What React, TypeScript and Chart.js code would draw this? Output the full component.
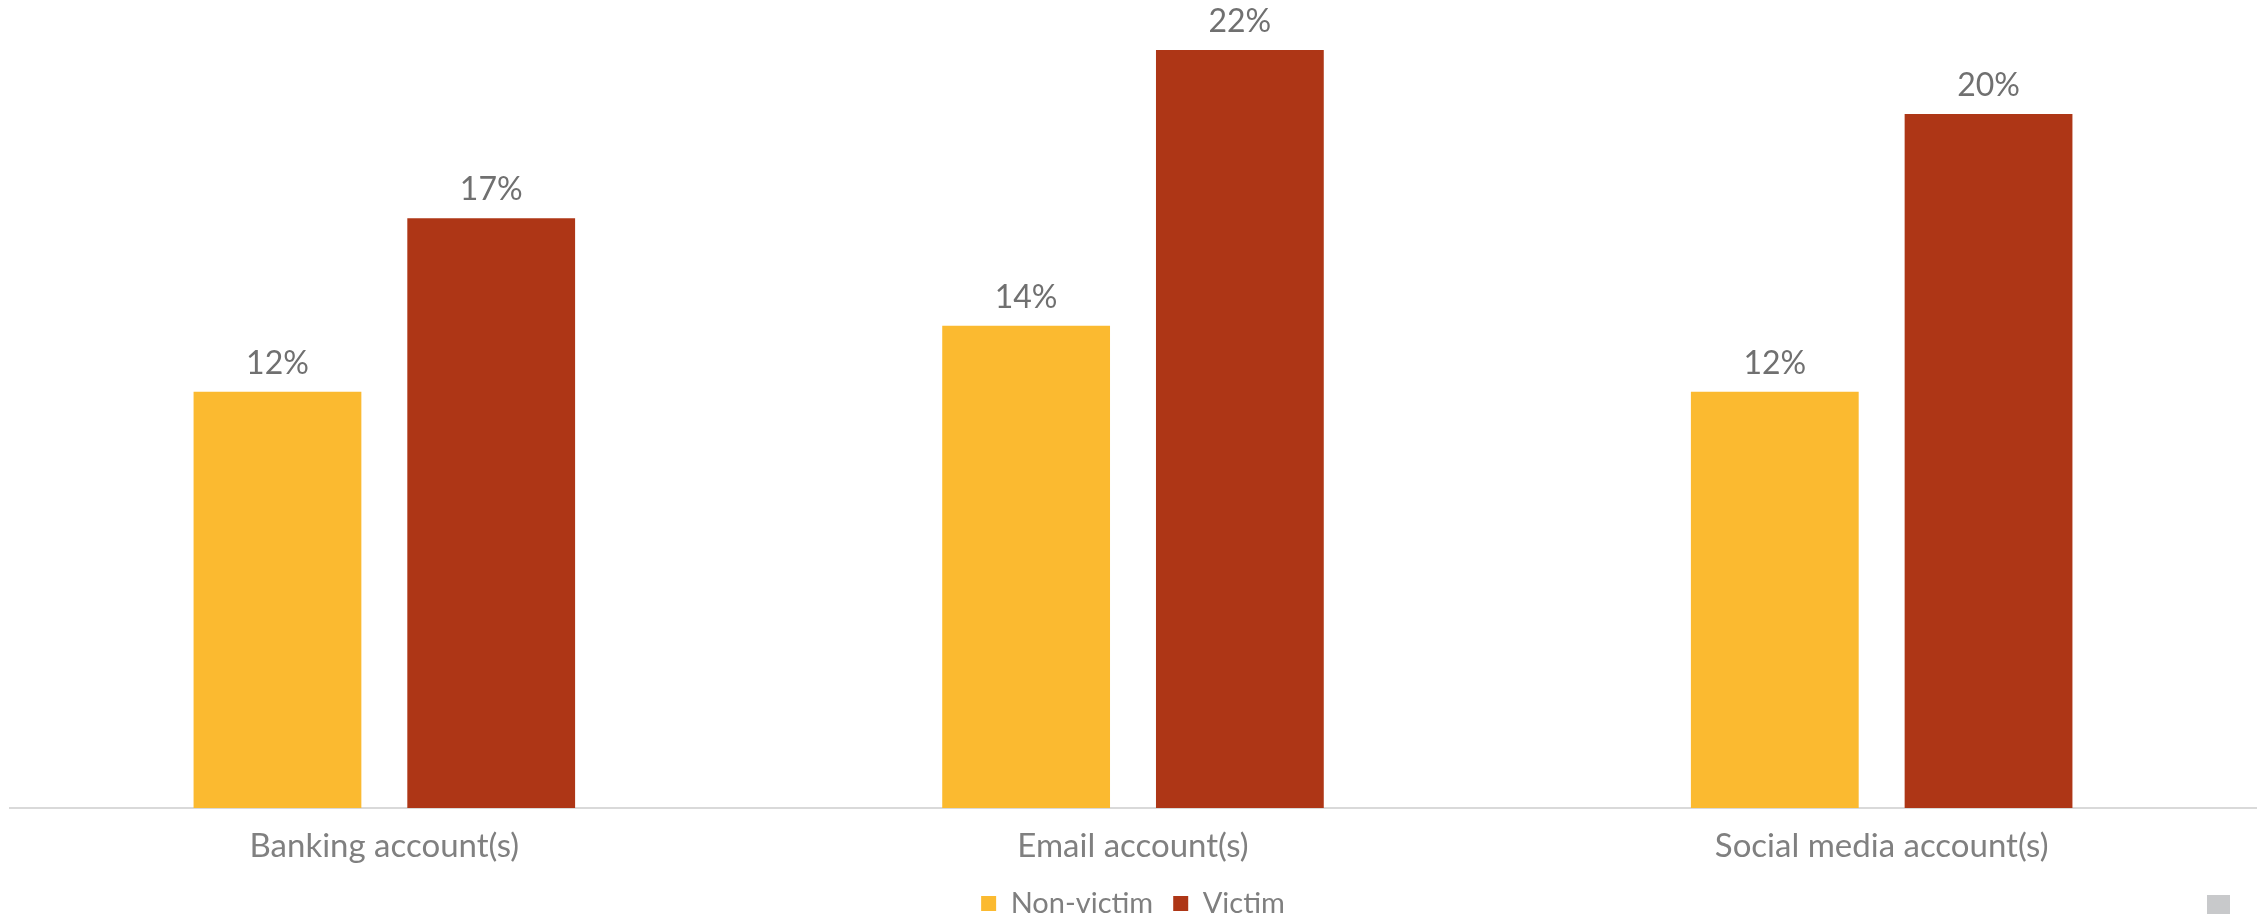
import React, { useEffect, useRef } from "react";
import { Chart, registerables } from "chart.js";

Chart.register(...registerables);

const categories = ["Banking account(s)", "Email account(s)", "Social media account(s)"];
const seriesNames = ["Non-victim", "Victim"];
const nonVictim = [12, 13.9, 12];
const victim = [17, 21.85, 20];
const seriesColors = ["#FBBA30", "#AE3616"];
const yMax = 23;

const FONT = "Lato, 'Open Sans', sans-serif";

const valueLabels = {
  id: "valueLabels",
  afterDatasetsDraw(chart: any) {
    const ctx = chart.ctx;
    ctx.save();
    ctx.font = `32px ${FONT}`;
    ctx.fillStyle = "#707070";
    ctx.textAlign = "center";
    ctx.textBaseline = "alphabetic";
    chart.data.datasets.forEach((ds: any, i: number) => {
      const meta = chart.getDatasetMeta(i);
      meta.data.forEach((el: any, j: number) => {
        const v = ds.data[j];
        ctx.fillText(Math.round(v) + "%", el.x, el.y - 18);
      });
    });
    ctx.restore();
  },
};

export default function App() {
  const ref = useRef<HTMLCanvasElement | null>(null);
  useEffect(() => {
    document.body.style.margin = "0";
    document.body.style.overflow = "hidden";
    const chart = new Chart(ref.current as HTMLCanvasElement, {
      type: "bar",
      data: {
        labels: categories,
        datasets: [
          {
            label: seriesNames[0],
            data: nonVictim,
            backgroundColor: seriesColors[0],
            categoryPercentage: 0.571,
            barPercentage: 0.785,
          },
          {
            label: seriesNames[1],
            data: victim,
            backgroundColor: seriesColors[1],
            categoryPercentage: 0.571,
            barPercentage: 0.785,
          },
        ],
      },
      options: {
        responsive: false,
        animation: false,
        layout: { padding: { left: 10, right: 4, top: 10, bottom: 0 } },
        scales: {
          x: {
            grid: { display: false, drawTicks: false },
            border: { display: true, color: "#d9d9d9", width: 2 },
            ticks: {
              color: "#808080",
              font: { family: FONT, size: 33, lineHeight: 1 },
              padding: 21.5,
            },
            afterFit: (scale: any) => {
              scale.height = 61;
            },
          },
          y: { display: false, min: 0, max: yMax },
        },
        plugins: {
          legend: {
            position: "bottom",
            labels: {
              boxWidth: 15,
              boxHeight: 15,
              color: "#7f7f7f",
              font: { family: FONT, size: 29 },
              padding: 20,
            },
          },
          tooltip: { enabled: false },
        },
      } as any,
      plugins: [valueLabels],
    });
    return () => chart.destroy();
  }, []);
  return (
    <div style={{ position: "relative", width: 2260, height: 914, overflow: "hidden" }}>
      <canvas ref={ref} width={2260} height={928} style={{ display: "block" }} />
      <div
        style={{
          position: "absolute",
          left: 2207,
          top: 895,
          width: 23,
          height: 19,
          background: "#c8c9cb",
        }}
      />
    </div>
  );
}
